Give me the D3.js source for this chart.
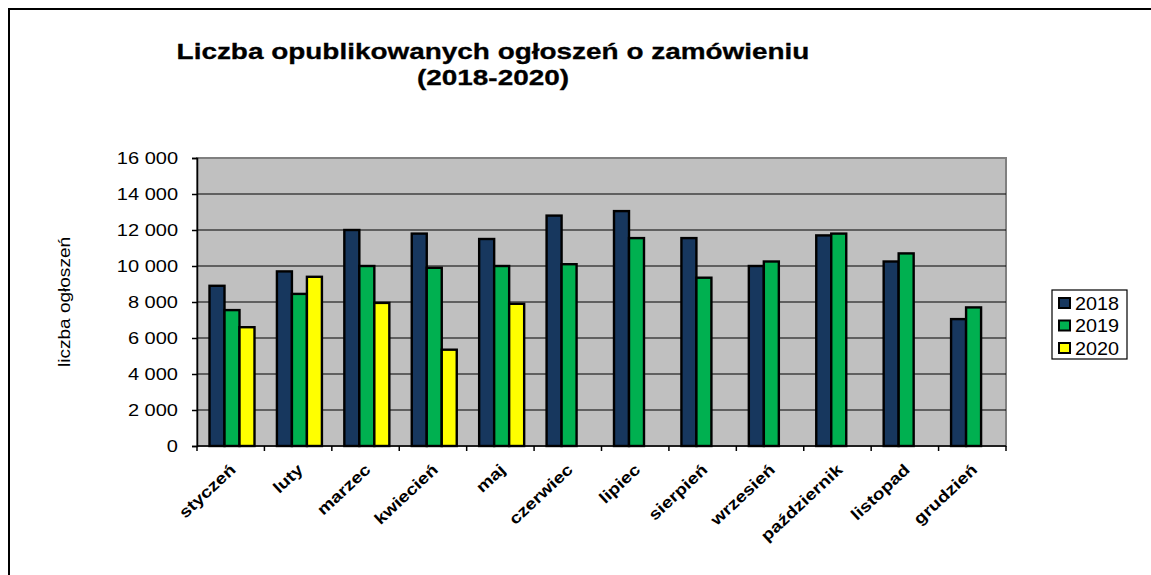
<!DOCTYPE html>
<html lang="pl">
<head>
  <meta charset="UTF-8">
  <title>Liczba opublikowanych ogłoszeń o zamówieniu</title>
  <script src="https://d3js.org/d3.v7.min.js"></script>
  <style>
    body { margin: 0; background: #fff; }
    text { font-family: "Liberation Sans", Arial, sans-serif; fill: #000; }
  </style>
</head>
<body>
  <div class="canvas"></div>
  <script>
    const months = ["styczeń", "luty", "marzec", "kwiecień", "maj", "czerwiec",
      "lipiec", "sierpień", "wrzesień", "październik", "listopad", "grudzień"];
    const years = ["2018", "2019", "2020"];
    const values2018 = [8900, 9700, 12000, 11800, 11500, 12800, 13050, 11550, 10000, 11700, 10250, 7050];
    const values2019 = [7550, 8450, 10000, 9900, 10000, 10100, 11550, 9350, 10250, 11800, 10700, 7700];
    const values2020 = [6600, 9400, 7950, 5350, 7900, null, null, null, null, null, null, null];
    const yTicks = [0, 2000, 4000, 6000, 8000, 10000, 12000, 14000, 16000];
    const colors = ["#17375E", "#00B050", "#FFFF00"];

    const series = [values2018, values2019, values2020];

    const svgWidth = 1151;
    const svgHeight = 575;
    const plot = { left: 197, right: 1006, top: 158, bottom: 446 };
    const stretch = 1.25; // text in the picture is drawn wider than usual

    const svg = d3.select(".canvas")
      .append("svg")
      .attr("width", svgWidth)
      .attr("height", svgHeight);

    // outer frame (only top and left edges are visible)
    svg.append("path")
      .attr("d", `M9,${svgHeight} V9 H${svgWidth}`)
      .attr("fill", "none")
      .attr("stroke", "#000")
      .attr("stroke-width", 2);

    // title
    const title = svg.append("text")
      .attr("transform", `translate(493, 0) scale(1.27, 1)`)
      .attr("text-anchor", "middle")
      .attr("font-size", 22)
      .attr("font-weight", "bold")
      .attr("stroke", "#000")
      .attr("stroke-width", 0.3);
    title.append("tspan").attr("x", 0).attr("y", 59).text("Liczba opublikowanych ogłoszeń o zamówieniu");
    title.append("tspan").attr("x", 0).attr("y", 85).text("(2018-2020)");

    const x = d3.scaleBand().domain(months).range([plot.left, plot.right]);
    const xSub = d3.scaleBand().domain(years).range([12.5, 57.5]);
    const y = d3.scaleLinear().domain([0, 16000]).range([plot.bottom, plot.top]);

    const pl = d3.formatLocale({ decimal: ",", thousands: " ", grouping: [3], currency: ["", " zł"] });
    const fmt = pl.format(",");

    // plot area
    svg.append("rect")
      .attr("x", plot.left)
      .attr("y", plot.top)
      .attr("width", plot.right - plot.left)
      .attr("height", plot.bottom - plot.top)
      .attr("fill", "#C0C0C0")
      .attr("stroke", "#808080")
      .attr("stroke-width", 2);

    // gridlines
    svg.append("g")
      .selectAll("line")
      .data(yTicks.filter(t => t > 0 && t < 16000))
      .join("line")
      .attr("x1", plot.left)
      .attr("x2", plot.right)
      .attr("y1", d => y(d))
      .attr("y2", d => y(d))
      .attr("stroke", "#000")
      .attr("stroke-width", 1.2);

    // bars
    const groups = svg.append("g")
      .selectAll("g")
      .data(series)
      .join("g")
      .attr("fill", (d, i) => colors[i]);

    groups.selectAll("rect")
      .data((vals, i) => vals.map((v, j) => ({ month: months[j], year: years[i], value: v }))
        .filter(d => d.value !== null))
      .join("rect")
      .attr("x", d => x(d.month) + xSub(d.year))
      .attr("y", d => y(d.value))
      .attr("width", xSub.bandwidth())
      .attr("height", d => y(0) - y(d.value))
      .attr("stroke", "#000")
      .attr("stroke-width", 2.4);

    // y axis
    const yAxis = d3.axisLeft(y)
      .tickValues(yTicks)
      .tickSize(5)
      .tickFormat(fmt);

    const yAxisGroup = svg.append("g")
      .attr("transform", `translate(${plot.left}, 0)`)
      .call(yAxis);
    yAxisGroup.select(".domain").attr("stroke", "#000").attr("stroke-width", 1.5);
    yAxisGroup.selectAll(".tick line").attr("stroke", "#000").attr("stroke-width", 1.5);
    yAxisGroup.selectAll(".tick text")
      .attr("x", -19 / stretch)
      .attr("transform", `scale(${stretch}, 1)`)
      .attr("font-size", 16)
      .attr("font-family", "Liberation Sans, Arial, sans-serif");

    // x axis: ticks at category boundaries
    const xAxisGroup = svg.append("g");
    xAxisGroup.append("line")
      .attr("x1", plot.left).attr("x2", plot.right)
      .attr("y1", plot.bottom).attr("y2", plot.bottom)
      .attr("stroke", "#000").attr("stroke-width", 1.5);
    xAxisGroup.selectAll(".xtick")
      .data(months.concat(["end"]))
      .join("line")
      .attr("class", "xtick")
      .attr("x1", d => d === "end" ? plot.right : x(d))
      .attr("x2", d => d === "end" ? plot.right : x(d))
      .attr("y1", plot.bottom)
      .attr("y2", plot.bottom + 5)
      .attr("stroke", "#000")
      .attr("stroke-width", 1.5);

    xAxisGroup.selectAll(".xlabel")
      .data(months)
      .join("text")
      .attr("class", "xlabel")
      .attr("transform", d => `translate(${x(d) + x.bandwidth() / 2 + 6}, 471) rotate(-43) scale(1.2, 1)`)
      .attr("text-anchor", "end")
      .attr("font-size", 16)
      .attr("font-weight", "bold")
      .text(d => d);

    // y axis title
    svg.append("text")
      .attr("transform", "translate(70, 302) rotate(-90) scale(1.19, 1)")
      .attr("text-anchor", "middle")
      .attr("font-size", 16)
      .text("liczba ogłoszeń");

    // legend
    const legend = svg.append("g");
    legend.append("rect")
      .attr("x", 1052).attr("y", 290)
      .attr("width", 75).attr("height", 69)
      .attr("fill", "#fff")
      .attr("stroke", "#000")
      .attr("stroke-width", 1.2);

    const legendRow = d3.scalePoint().domain(years).range([303, 348]);

    const rows = legend.selectAll(".row")
      .data(years)
      .join("g")
      .attr("class", "row")
      .attr("transform", d => `translate(1059, ${legendRow(d)})`);

    rows.append("rect")
      .attr("x", 0).attr("y", -5)
      .attr("width", 11).attr("height", 10)
      .attr("fill", (d, i) => colors[i])
      .attr("stroke", "#000")
      .attr("stroke-width", 2);

    rows.append("text")
      .attr("transform", "translate(16, 6.5) scale(1.1, 1)")
      .attr("font-size", 18)
      .text(d => d);
  </script>
</body>
</html>
